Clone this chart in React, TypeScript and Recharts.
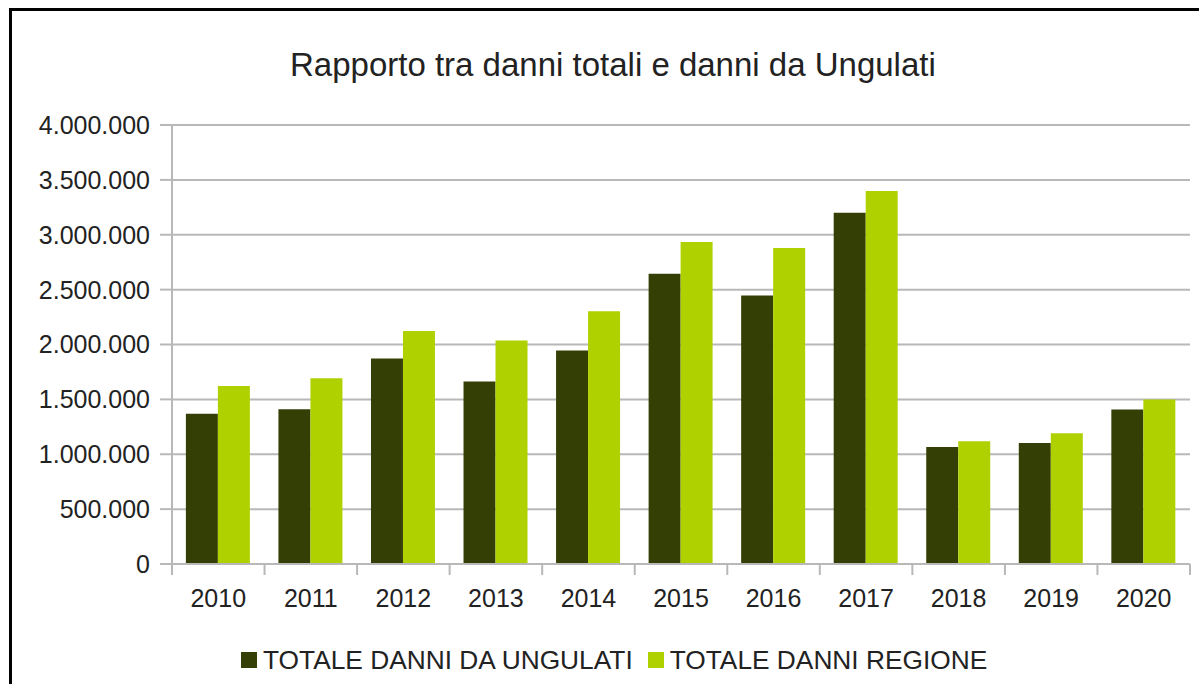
import { BarChart, Bar, XAxis, YAxis, CartesianGrid } from 'recharts';

const years = ['2010', '2011', '2012', '2013', '2014', '2015', '2016', '2017', '2018', '2019', '2020'];
const ungulati = [1370000, 1409000, 1872000, 1662000, 1945000, 2644000, 2447000, 3201000, 1066000, 1102000, 1407000];
const regione = [1622000, 1692000, 2124000, 2037000, 2304000, 2933000, 2879000, 3399000, 1118000, 1191000, 1498000];
const yTicks = [0, 500000, 1000000, 1500000, 2000000, 2500000, 3000000, 3500000, 4000000];

const title = 'Rapporto tra danni totali e danni da Ungulati';
const seriesNames = ['TOTALE DANNI DA UNGULATI', 'TOTALE DANNI REGIONE'];
const seriesColors = ['#333f04', '#b0d100'];

const data = years.map((year, i) => ({ year, ungulati: ungulati[i], regione: regione[i] }));

const FONT = '"Liberation Sans", Arial, sans-serif';
const GRID = '#b8b8b8';

// 4000000 -> "4.000.000"
const fmt = (v: number) => String(v).replace(/\B(?=(\d{3})+(?!\d))/g, '.');

function YearTick(props: any) {
  const { x, y, payload, index, visibleTicksCount } = props;
  const off = payload.offset ?? 0;
  const last = index === visibleTicksCount - 1;
  return (
    <g>
      <line x1={x - off} y1={y} x2={x - off} y2={y + 11} stroke={GRID} strokeWidth={2} />
      {last && <line x1={x + off} y1={y} x2={x + off} y2={y + 11} stroke={GRID} strokeWidth={2} />}
      <text x={x} y={y + 34} textAnchor="middle" dominantBaseline="central" fontSize={25} fill="#222" fontFamily={FONT}>
        {payload.value}
      </text>
    </g>
  );
}

export default function App() {
  return (
    <div style={{ position: 'fixed', left: 0, top: 0, width: 1199, height: 684, overflow: 'hidden', background: '#fff', fontFamily: FONT }}>
      <div style={{ position: 'absolute', left: 9, top: 8, width: 1300, height: 800, border: '3px solid #000' }} />
      <div style={{ position: 'absolute', left: 290, top: 48, fontSize: 33, lineHeight: '33px', color: '#222', whiteSpace: 'nowrap' }}>
        {title}
      </div>
      <div style={{ position: 'absolute', left: 0, top: 0 }}>
        <BarChart width={1199} height={684} data={data} margin={{ top: 125, right: 9, left: 0, bottom: 60 }}
          barCategoryGap="15%" barGap={0}>
          <CartesianGrid vertical={false} stroke={GRID} strokeWidth={2} />
          <XAxis dataKey="year" height={60} axisLine={{ stroke: GRID, strokeWidth: 2 }} tickLine={false}
            tickSize={0} tickMargin={0} tick={<YearTick />} interval={0} />
          <YAxis width={172} domain={[0, 4000000]} ticks={yTicks} tickFormatter={fmt} interval={0}
            axisLine={{ stroke: GRID, strokeWidth: 2 }} tickLine={{ stroke: GRID, strokeWidth: 2 }}
            tickSize={12} tickMargin={10} tick={{ fontSize: 25, fill: '#222', fontFamily: FONT }} />
          <YAxis yAxisId="right" orientation="right" width={0} domain={[0, 4000000]} tick={false} tickLine={false}
            axisLine={{ stroke: GRID, strokeWidth: 2 }} />
          <Bar dataKey="ungulati" name={seriesNames[0]} fill={seriesColors[0]} isAnimationActive={false} />
          <Bar dataKey="regione" name={seriesNames[1]} fill={seriesColors[1]} isAnimationActive={false} />
        </BarChart>
      </div>
      <div style={{ position: 'absolute', left: 241, top: 645, height: 30, display: 'flex', alignItems: 'center', fontSize: 26.3, color: '#222', whiteSpace: 'nowrap' }}>
        {seriesNames.map((name, i) => (
          <div key={name} style={{ display: 'flex', alignItems: 'center', marginRight: 15 }}>
            <span style={{ width: 16, height: 16, background: seriesColors[i], marginRight: 6, display: 'inline-block' }} />
            <span>{name}</span>
          </div>
        ))}
      </div>
    </div>
  );
}
